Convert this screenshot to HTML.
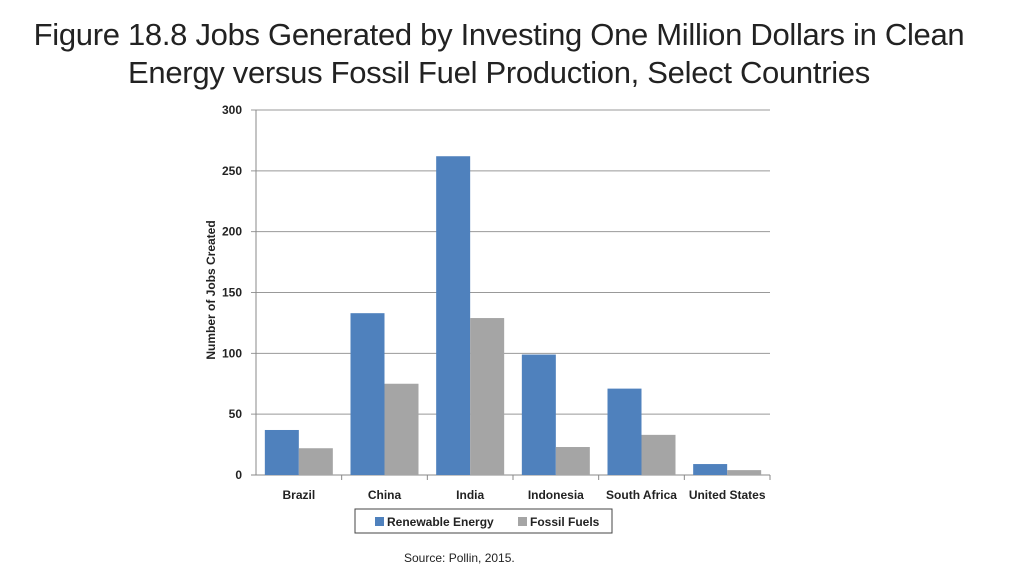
<!DOCTYPE html>
<html><head><meta charset="utf-8"><style>
body{margin:0;width:1024px;height:576px;background:#fff;overflow:hidden;font-family:"Liberation Sans",sans-serif}
#title{position:absolute;left:0;width:998px;top:16px;text-align:center;font-size:31px;line-height:38px;color:#222;font-family:"Liberation Sans Narrow","Liberation Sans",sans-serif;letter-spacing:-0.3px}
#src{position:absolute;left:404px;top:551px;font-size:12px;color:#222}
</style></head><body>
<div id="title">Figure 18.8 Jobs Generated by Investing One Million Dollars in Clean<br>Energy versus Fossil Fuel Production, Select Countries</div>
<svg id="chart" width="1024" height="576" style="position:absolute;left:0;top:0"></svg>
<div id="src">Source: Pollin, 2015.</div>
<script>
const categories=["Brazil","China","India","Indonesia","South Africa","United States"];
const renewable=[37,133,262,99,71,9];
const fossil=[22,75,129,23,33,4];
const yTicks=[0,50,100,150,200,250,300];
const NS="http://www.w3.org/2000/svg";
const svg=document.getElementById('chart');
const x0=256,x1=770,yTop=110,yBot=475,yMax=300;
const y=v=>yBot-(v/yMax)*(yBot-yTop);
const bw=(x1-x0)/categories.length;
function mk(t,a,p){const e=document.createElementNS(NS,t);for(const k in a)e.setAttribute(k,a[k]);(p||svg).appendChild(e);return e;}
yTicks.forEach(v=>{
 const g=mk('line',{x1:x0-5,x2:x1,y1:y(v),y2:y(v),stroke:v===0?'#888':'#999','stroke-width':1});
 
 
 const t=mk('text',{x:x0-14,y:y(v)+4,'text-anchor':'end','font-size':12,'font-weight':'bold',fill:'#222'});
 t.textContent=v;
 
 
});
const ax=mk('line',{x1:x0,x2:x0,y1:yTop,y2:yBot,stroke:'#888'});


categories.forEach((c,i)=>{
 const cx=x0+bw*i;
 const tk=mk('line',{x1:cx+bw,x2:cx+bw,y1:yBot,y2:yBot+5,stroke:'#888'});
 
 
 const w=34,s=cx+(bw-2*w)/2;
 const r=mk('rect',{x:s,y:y(renewable[i]),width:w,height:yBot-y(renewable[i]),fill:'#4f81bd'});
 
 
 const f=mk('rect',{x:s+w,y:y(fossil[i]),width:w,height:yBot-y(fossil[i]),fill:'#a5a5a5'});
 
 
 const t=mk('text',{x:cx+bw/2,y:499,'text-anchor':'middle','font-size':12,'font-weight':'bold',fill:'#222'});
 t.textContent=c;
 
 
});
const yt=mk('text',{transform:'translate(215,290) rotate(-90)','text-anchor':'middle','font-size':12,'font-weight':'bold',fill:'#222'});
yt.textContent='Number of Jobs Created';


const lg=mk('g',{});


mk('rect',{x:355,y:509,width:257,height:24,fill:'#fff',stroke:'#444','stroke-width':1},lg);
const l1=mk('rect',{x:375,y:517,width:9,height:9,fill:'#4f81bd'},lg);


const t1=mk('text',{x:387,y:526,'font-size':12,'font-weight':'bold',fill:'#222'},lg);t1.textContent='Renewable Energy';


const l2=mk('rect',{x:518,y:517,width:9,height:9,fill:'#a5a5a5'},lg);


const t2=mk('text',{x:530,y:526,'font-size':12,'font-weight':'bold',fill:'#222'},lg);t2.textContent='Fossil Fuels';


</script>
</body></html>
